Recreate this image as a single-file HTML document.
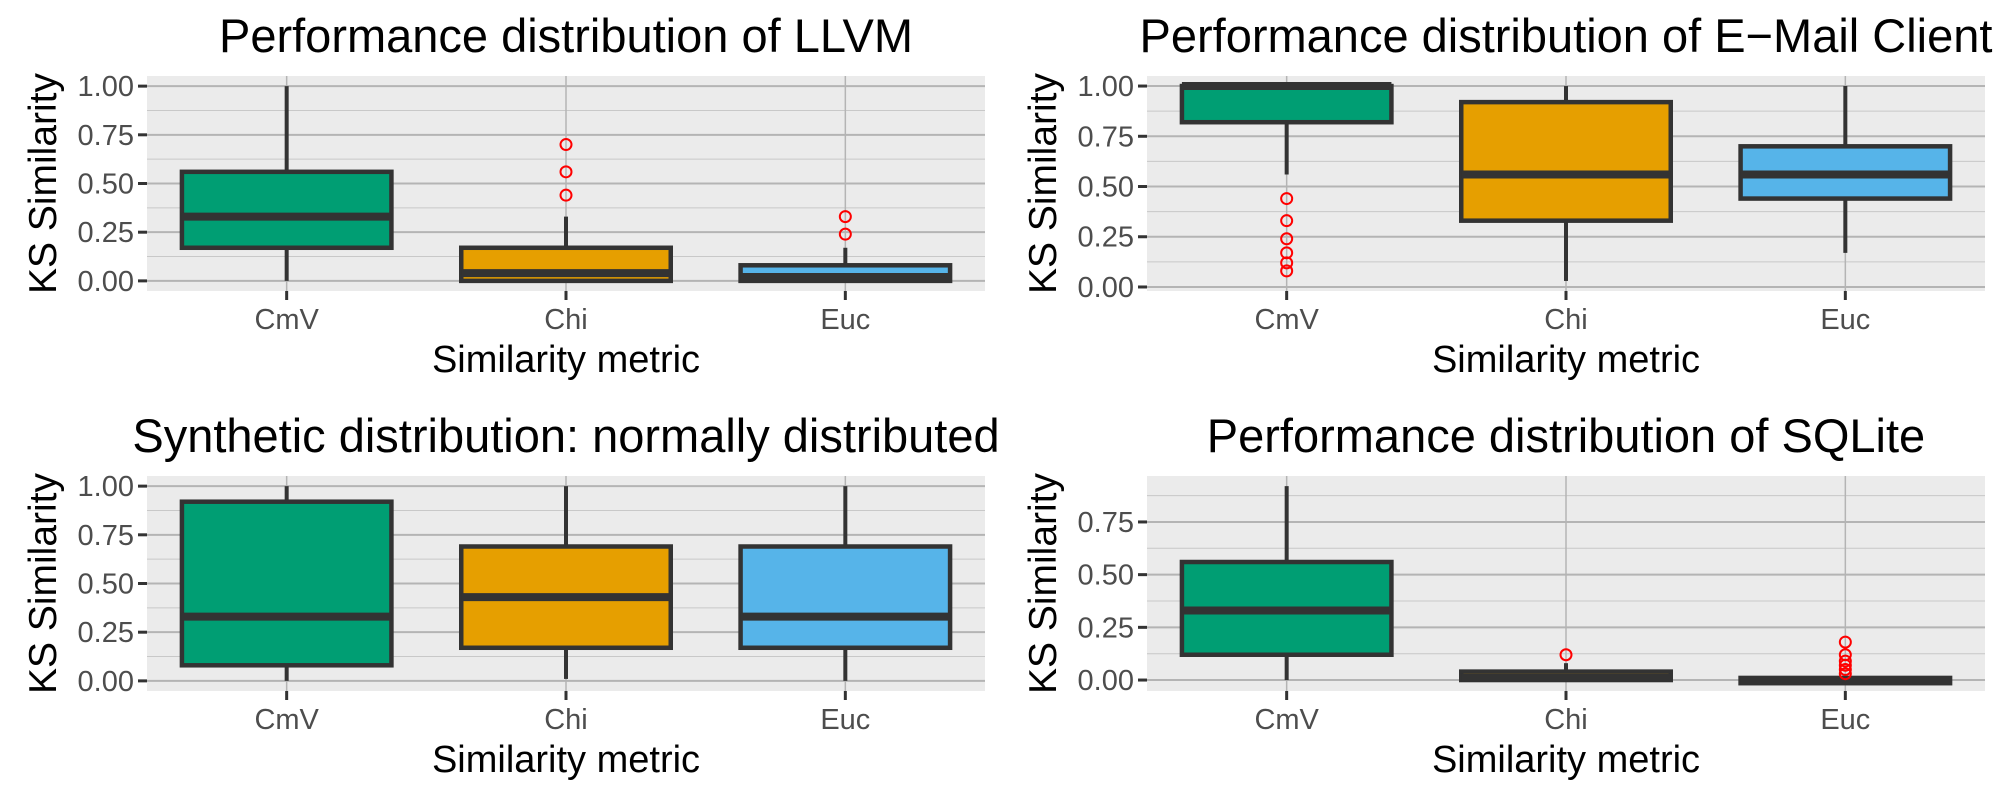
<!DOCTYPE html>
<html><head><meta charset="utf-8"><style>
html,body{margin:0;padding:0;background:#fff}
svg{display:block;font-family:"Liberation Sans",Arial,sans-serif}
</style></head><body>
<svg id="chart" width="2000" height="800" viewBox="0 0 2000 800" xmlns="http://www.w3.org/2000/svg"></svg>
<script>
const categories = ["CmV","Chi","Euc"];
const colors = ["#009E73","#E69F00","#56B4E9"];
const titles = ["Performance distribution of LLVM","Performance distribution of E\u2212Mail Client","Synthetic distribution: normally distributed","Performance distribution of SQLite"];
// [whiskerLow, q1, median, q3, whiskerHigh]
const llvmStats = [[0,0.17,0.33,0.56,1.0],[0,0.0,0.04,0.17,0.33],[0,0.0,0.02,0.08,0.17]];
const emailStats = [[0.56,0.82,1.0,1.0,1.0],[0.03,0.33,0.56,0.92,1.0],[0.17,0.44,0.56,0.70,1.0]];
const synthStats = [[0,0.08,0.33,0.92,1.0],[0.01,0.17,0.43,0.69,1.0],[0,0.17,0.33,0.69,1.0]];
const sqliteStats = [[0,0.12,0.33,0.56,0.92],[0,0.0,0.01,0.04,0.08],[-0.015,-0.015,0.0,0.01,0.01]];
const llvmOutliers = [[],[0.44,0.56,0.70],[0.24,0.33]];
const emailOutliers = [[0.08,0.12,0.17,0.24,0.33,0.44],[],[]];
const synthOutliers = [[],[],[]];
const sqliteOutliers = [[],[0.12],[0.03,0.05,0.07,0.09,0.12,0.18]];
const yTicksFull = [0,0.25,0.5,0.75,1.0];
const yTicksSqlite = [0,0.25,0.5,0.75];
const yLimits = [[-0.052,1.052],[-0.02,1.05],[-0.052,1.052],[-0.052,0.968]];

const panels = [
 {ox:0,oy:0,stats:llvmStats,out:llvmOutliers,ticks:yTicksFull,name:"llvm"},
 {ox:1000,oy:0,stats:emailStats,out:emailOutliers,ticks:yTicksFull,name:"email"},
 {ox:0,oy:400,stats:synthStats,out:synthOutliers,ticks:yTicksFull,name:"synthetic"},
 {ox:1000,oy:400,stats:sqliteStats,out:sqliteOutliers,ticks:yTicksSqlite,name:"sqlite"}
];
const NS="http://www.w3.org/2000/svg";
const svg=document.getElementById('chart');
function mk(tag,attrs,parent,text){const e=document.createElementNS(NS,tag);for(const k in attrs)e.setAttribute(k,attrs[k]);if(text!==undefined)e.textContent=text;(parent||svg).appendChild(e);return e;}

panels.forEach((p,pi)=>{
  const g=mk('g',{});
  
  
  const L=p.ox+147,R=p.ox+985,T=p.oy+76,B=p.oy+291;
  const [ymin,ymax]=yLimits[pi];
  const y=v=>B-(v-ymin)/(ymax-ymin)*(B-T);
  const step=(R-L)/3;
  const x=i=>L+step*(i+0.5);
  const bg=mk('rect',{x:L,y:T,width:R-L,height:B-T,fill:'#ebebeb'},g);
  
  
  for(let i=0;i<p.ticks.length;i++){
    const v=p.ticks[i]+0.125;
    if(y(v)>T) mk('line',{x1:L,x2:R,y1:y(v),y2:y(v),stroke:'#c8c8c8','stroke-width':1},g);
  }
  p.ticks.forEach(v=>{
    mk('line',{x1:L,x2:R,y1:y(v),y2:y(v),stroke:'#b4b4b4','stroke-width':2},g);
    mk('line',{x1:L-9,x2:L,y1:y(v),y2:y(v),stroke:'#333','stroke-width':3},g);
    const t=mk('text',{x:L-13,y:y(v)+10,'text-anchor':'end','font-size':29,fill:'#4d4d4d'},g,v.toFixed(2));
    
    
  });
  categories.forEach((c,i)=>{
    mk('line',{x1:x(i),x2:x(i),y1:T,y2:B,stroke:'#b4b4b4','stroke-width':1.5},g);
    mk('line',{x1:x(i),x2:x(i),y1:B,y2:B+9,stroke:'#333','stroke-width':3},g);
    const t=mk('text',{x:x(i),y:B+38,'text-anchor':'middle','font-size':29,fill:'#4d4d4d'},g,c);
    
    
  });
  const bw=step*0.75;
  p.stats.forEach((s,i)=>{
    const [wl,q1,md,q3,wh]=s;
    const bx=mk('g',{},g);
    
    
    mk('line',{x1:x(i),x2:x(i),y1:y(wl),y2:y(q1),stroke:'#333','stroke-width':4},bx);
    mk('line',{x1:x(i),x2:x(i),y1:y(q3),y2:y(wh),stroke:'#333','stroke-width':4},bx);
    const h=Math.max(y(q1)-y(q3),0.5);
    mk('rect',{x:x(i)-bw/2,y:y(q3),width:bw,height:h,fill:colors[i],stroke:'#333','stroke-width':4.5},bx);
    mk('line',{x1:x(i)-bw/2,x2:x(i)+bw/2,y1:y(md),y2:y(md),stroke:'#333','stroke-width':8},bx);
    p.out[i].forEach(v=>{
      const c=mk('circle',{cx:x(i),cy:y(v),r:5.5,fill:'none',stroke:'#ff0000','stroke-width':2},bx);
      
      
    });
  });
  const tt=mk('text',{x:(L+R)/2,y:p.oy+52,'text-anchor':'middle','font-size':47,fill:'#000'},g,titles[pi]);
  
  
  const xt=mk('text',{x:(L+R)/2,y:p.oy+372,'text-anchor':'middle','font-size':38,fill:'#000'},g,'Similarity metric');
  
  
  const cy=(T+B)/2;
  const yt=mk('text',{x:p.ox+56,y:cy,'text-anchor':'middle','font-size':39,fill:'#000',transform:`rotate(-90 ${p.ox+56} ${cy})`},g,'KS Similarity');
  
  
});
</script>
</body></html>
